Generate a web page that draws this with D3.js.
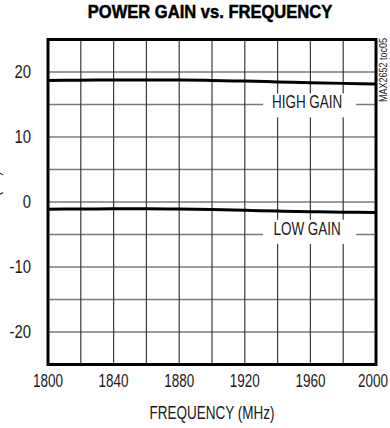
<!DOCTYPE html>
<html><head><meta charset="utf-8">
<script src="https://cdn.jsdelivr.net/npm/d3@7"></script>
<style>
html,body{margin:0;padding:0;background:#fff;}
svg{display:block;}
text{font-family:"Liberation Sans",Arial,sans-serif;fill:#1a1a1a;}
</style></head>
<body>
<svg id="chart" width="390" height="428"></svg>
<script>
const title = "POWER GAIN vs. FREQUENCY";
const xLabel = "FREQUENCY (MHz)";
const yLabel = "GAIN (dB)";
const noteLabel = "MAX2652 toc05";
const frequency = [1800,1820,1840,1860,1880,1900,1920,1940,1960,1980,2000];
const highGain = [18.7,18.74,18.78,18.78,18.76,18.7,18.6,18.48,18.35,18.25,18.15];
const lowGain = [-1.1,-1.08,-1.05,-1.05,-1.08,-1.15,-1.27,-1.4,-1.5,-1.57,-1.62];
const xTicks = [1800,1840,1880,1920,1960,2000];
const yTicks = [20,10,0,-10,-20];
const xGrid = [1820,1840,1860,1880,1900,1920,1940,1960,1980];
const yGrid = [20,15,10,5,0,-5,-10,-15,-20];
const seriesLabels = [
  {text:"HIGH GAIN", f:1958, v:14.4},
  {text:"LOW GAIN", f:1958, v:-5.05}
];

const svg = d3.select("#chart");
const L=48, R=376, T=39.5, B=364.5;
const x = d3.scaleLinear().domain([1800,2000]).range([L,R]);
const y = d3.scaleLinear().domain([-25,25]).range([B,T]);

function ctext(parent, tx, ty, str, size, sx, anchor){
  return parent.append("text")
    .attr("transform",`translate(${tx},${ty}) scale(${sx},1)`)
    .attr("text-anchor",anchor||"middle")
    .style("font-size",size+"px").text(str);
}

// title
ctext(svg,210,18.3,title,18,0.92).style("font-weight","bold")
  .style("fill","#000").attr("stroke","#000").attr("stroke-width",0.5);

const g = svg.append("g");
// grid
g.selectAll("line.hg").data(yGrid).join("line").attr("class","hg")
  .attr("x1",L).attr("x2",R).attr("y1",d=>y(d)).attr("y2",d=>y(d))
  .attr("stroke","#7a7a7a").attr("stroke-width",1.6);
g.selectAll("line.vg").data(xGrid).join("line").attr("class","vg")
  .attr("y1",T).attr("y2",B).attr("x1",d=>x(d)).attr("x2",d=>x(d))
  .attr("stroke","#3a3a3a").attr("stroke-width",1.2);

// label boxes
seriesLabels.forEach(s=>{
  const cx = x(s.f), by = y(s.v);
  g.append("rect").attr("x",cx-44).attr("y",by-15).attr("width",93).attr("height",24).attr("fill","#fff");
  ctext(g,cx,by,s.text,18,0.75);
});

// lines
const line = d3.line().x((d,i)=>x(frequency[i])).y(d=>y(d)).curve(d3.curveMonotoneX);
[highGain,lowGain].forEach(s=>{
  g.append("path").attr("d",line(s)).attr("fill","none").attr("stroke","#000").attr("stroke-width",3);
});

// border
g.append("rect").attr("x",L).attr("y",T).attr("width",R-L).attr("height",B-T)
  .attr("fill","none").attr("stroke","#000").attr("stroke-width",3);

// x tick labels
xTicks.forEach((d,i)=>{
  const last = i===xTicks.length-1;
  ctext(svg, last ? 388 : x(d), 386.7, d, 18, 0.75, last ? "end" : "middle");
});
// y tick labels
yTicks.forEach(d=>{
  ctext(svg, 31, y(d)+6, d, 17.5, 0.85, "end");
});

ctext(svg, x(1900), 419.3, xLabel, 18, 0.75);

svg.append("text").attr("transform",`translate(-1.5,${y(0)}) rotate(-90) scale(0.75,1)`)
  .attr("text-anchor","middle").style("font-size","18px").text(yLabel);

svg.append("text").attr("transform",`translate(386.5,70) rotate(-90) scale(0.9,1)`)
  .attr("text-anchor","middle").style("font-size","10px").text(noteLabel);
</script>
</body></html>
